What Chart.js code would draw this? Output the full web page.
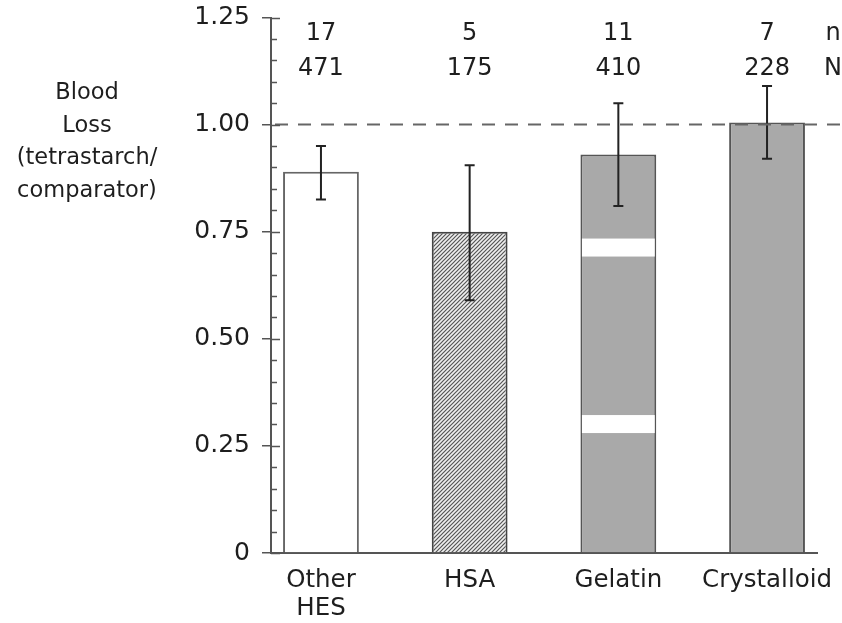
<!DOCTYPE html>
<html>
<head>
<meta charset="utf-8">
<script src="https://cdn.jsdelivr.net/npm/chart.js@4.4.1/dist/chart.umd.min.js"></script>
<style>
  html, body { margin: 0; padding: 0; background: #fff; }
  #wrap { width: 842px; height: 623px; }
</style>
</head>
<body>
<div id="wrap"><canvas id="c" width="842" height="623"></canvas></div>
<script>
// Blood loss ratio (tetrastarch / comparator) by comparator group
const categories = ['Other HES', 'HSA', 'Gelatin', 'Crystalloid'];
const categoryLabels = [['Other', 'HES'], 'HSA', 'Gelatin', 'Crystalloid'];
const ratio = [0.89, 0.75, 0.93, 1.005];
const ciLow = [0.825, 0.59, 0.81, 0.92];
const ciHigh = [0.95, 0.905, 1.05, 1.09];
const trials = [17, 5, 11, 7];        // n
const patients = [471, 175, 410, 228]; // N
const yTicks = [0, 0.25, 0.50, 0.75, 1.00, 1.25];
const referenceLine = 1.0;
// value ranges left blank inside the Gelatin bar
const gelatinGaps = [[0.28, 0.322], [0.692, 0.734]];

const FONT = '"DejaVu Sans", "Liberation Sans", sans-serif';
const INK = '#1e1e1e';
const AXIS = '#555';

function hatchPattern() {
  const t = document.createElement('canvas');
  t.width = 4; t.height = 4;
  const g = t.getContext('2d');
  g.fillStyle = '#efefef';
  g.fillRect(0, 0, 4, 4);
  g.strokeStyle = '#555';
  g.lineWidth = 1.2;
  g.beginPath();
  g.moveTo(-1, 5); g.lineTo(5, -1);
  g.moveTo(-3, 3); g.lineTo(3, -3);
  g.moveTo(1, 7); g.lineTo(7, 1);
  g.stroke();
  return document.getElementById('c').getContext('2d').createPattern(t, 'repeat');
}

const fills = ['#ffffff', hatchPattern(), '#a9a9a9', '#a9a9a9'];
const borders = ['#666', '#444', '#555', '#555'];

const overlay = {
  id: 'overlay',
  afterDatasetsDraw(chart) {
    const { ctx, chartArea, scales } = chart;
    const x = scales.x, y = scales.y;
    const meta = chart.getDatasetMeta(0);
    ctx.save();

    // blank bands in the Gelatin bar
    const gel = meta.data[categories.indexOf('Gelatin')];
    const half = gel.width / 2 - 1.5;
    ctx.fillStyle = '#ffffff';
    gelatinGaps.forEach(([a, b]) => {
      const top = y.getPixelForValue(b), bot = y.getPixelForValue(a);
      ctx.fillRect(gel.x - half, top, half * 2, bot - top);
    });

    // confidence interval whiskers
    ctx.strokeStyle = '#222';
    ctx.lineWidth = 2;
    categories.forEach((_, i) => {
      const cx = x.getPixelForValue(i);
      const yl = y.getPixelForValue(ciLow[i]);
      const yh = y.getPixelForValue(ciHigh[i]);
      ctx.beginPath();
      ctx.moveTo(cx, yl); ctx.lineTo(cx, yh);
      ctx.moveTo(cx - 5, yl); ctx.lineTo(cx + 5, yl);
      ctx.moveTo(cx - 5, yh); ctx.lineTo(cx + 5, yh);
      ctx.stroke();
    });

    // dashed reference line at ratio 1
    const yr = y.getPixelForValue(referenceLine);
    ctx.strokeStyle = '#666';
    ctx.lineWidth = 2;
    ctx.setLineDash([13, 10]);
    ctx.beginPath();
    ctx.moveTo(chartArea.left + 4, yr);
    ctx.lineTo(chart.width, yr);
    ctx.stroke();
    ctx.setLineDash([]);

    // inner part of major ticks and minor ticks
    ctx.strokeStyle = AXIS;
    ctx.lineWidth = 1.5;
    ctx.beginPath();
    for (let k = 0; k <= 25; k++) {
      const v = k * 0.05;
      const py = Math.round(y.getPixelForValue(v)) + 0.5;
      const len = (k % 5 === 0) ? 9 : 6;
      ctx.moveTo(chartArea.left, py);
      ctx.lineTo(chartArea.left + len, py);
    }
    ctx.stroke();

    // study and patient counts
    ctx.fillStyle = INK;
    ctx.font = '24px ' + FONT;
    ctx.textAlign = 'center';
    ctx.textBaseline = 'middle';
    const rowN = chartArea.top + 16.5, rowP = chartArea.top + 51;
    categories.forEach((_, i) => {
      const cx = x.getPixelForValue(i);
      ctx.fillText(String(trials[i]), cx, rowN);
      ctx.fillText(String(patients[i]), cx, rowP);
    });
    ctx.fillText('n', 833, rowN);
    ctx.fillText('N', 833, rowP);

    // y-axis title
    ctx.font = '22.5px ' + FONT;
    ['Blood', 'Loss', '(tetrastarch/', 'comparator)'].forEach((t, i) => {
      ctx.fillText(t, 87, 93 + i * 32.7);
    });
    ctx.restore();
  }
};

new Chart(document.getElementById('c'), {
  type: 'bar',
  data: {
    datasets: [{
      label: 'Blood loss ratio',
      data: ratio.map((v, i) => ({ x: i, y: v })),
      backgroundColor: fills,
      borderColor: borders,
      borderWidth: 2,
      borderSkipped: 'start',
      categoryPercentage: 1,
      barPercentage: 0.51
    }]
  },
  options: {
    responsive: false,
    devicePixelRatio: 1,
    animation: false,
    layout: { padding: { top: 17.5, right: 25, bottom: 0, left: 0 } },
    plugins: { legend: { display: false }, tooltip: { enabled: false } },
    scales: {
      x: {
        type: 'linear',
        offset: false,
        min: -0.336,
        max: 3.336,
        afterBuildTicks(s) { s.ticks = categories.map((_, i) => ({ value: i })); },
        afterFit(s) { s.height = 70; s.paddingLeft = 0; s.paddingRight = 0; },
        grid: { drawOnChartArea: false, drawTicks: false, offset: false },
        border: { display: true, color: AXIS, width: 2 },
        ticks: {
          autoSkip: false,
          maxRotation: 0,
          padding: 14,
          color: INK,
          font: { family: FONT, size: 24.5, lineHeight: 1.14 },
          callback: (v) => categoryLabels[v]
        }
      },
      y: {
        min: 0,
        max: 1.25,
        afterBuildTicks(s) { s.ticks = yTicks.map(v => ({ value: v })); },
        afterFit(s) { s.width = 271; s.paddingTop = 0; s.paddingBottom = 0; },
        grid: { drawOnChartArea: false, drawTicks: true, tickLength: 9, color: AXIS, lineWidth: 1.5 },
        border: { display: true, color: AXIS, width: 2 },
        ticks: {
          padding: 12,
          color: INK,
          font: { family: FONT, size: 25 },
          callback: (v) => v === 0 ? '0' : v.toFixed(2)
        }
      }
    }
  },
  plugins: [overlay]
});
</script>
</body>
</html>
